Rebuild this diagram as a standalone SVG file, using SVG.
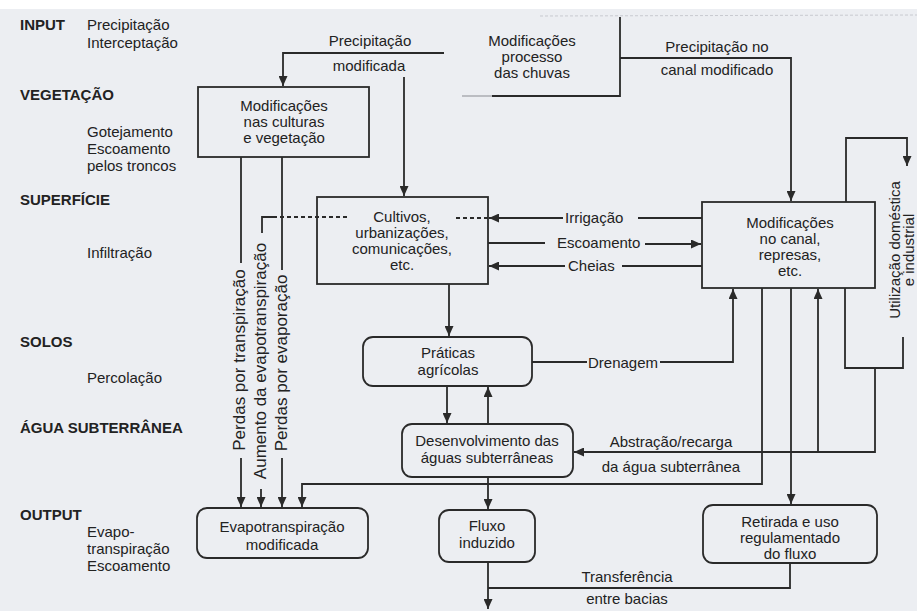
<svg xmlns="http://www.w3.org/2000/svg" width="917" height="611" viewBox="0 0 917 611">
<style>
.t{font-family:"Liberation Sans",Arial,sans-serif;font-size:15px;fill:#222222}
.b{font-weight:bold}
.c{text-anchor:middle}
.v{font-size:17px}
.box{fill:none;stroke:#2a2a2a;stroke-width:1.8}
.ln{fill:none;stroke:#2a2a2a;stroke-width:1.8}
.ar{marker-end:url(#ah)}
.da{stroke-dasharray:4 3}
</style>
<defs>
<marker id="ah" markerUnits="userSpaceOnUse" markerWidth="10" markerHeight="9" refX="10" refY="4.5" orient="auto">
<path d="M0,0 L10,4.5 L0,9 z" fill="#2a2a2a"/>
</marker>
</defs>
<rect x="0" y="0" width="917" height="611" fill="#eceef2"/>
<rect x="0" y="0" width="917" height="9" fill="#ffffff"/>
<line x1="540" y1="16" x2="917" y2="15" stroke="#c8cad0" stroke-width="1" stroke-dasharray="3 2"/>

<g id="legend">
<text class="t b" x="20" y="30">INPUT</text>
<text class="t" x="87" y="30">Precipitação</text>
<text class="t" x="87" y="48">Interceptação</text>
<text class="t b" x="20" y="100">VEGETAÇÃO</text>
<text class="t" x="87" y="137">Gotejamento</text>
<text class="t" x="87" y="154">Escoamento</text>
<text class="t" x="87" y="171">pelos troncos</text>
<text class="t b" x="20" y="205">SUPERFÍCIE</text>
<text class="t" x="87" y="258">Infiltração</text>
<text class="t b" x="20" y="347">SOLOS</text>
<text class="t" x="87" y="383">Percolação</text>
<text class="t b" x="20" y="433">ÁGUA SUBTERRÂNEA</text>
<text class="t b" x="20" y="520">OUTPUT</text>
<text class="t" x="87" y="537">Evapo-</text>
<text class="t" x="87" y="554">transpiração</text>
<text class="t" x="87" y="571">Escoamento</text>
</g>

<g id="connectors">
<path class="ln ar" d="M444,53 H283 V86"/>
<path class="ln ar" d="M404,77 V196"/>
<path class="ln ar" d="M620,58 H791 V201"/>
<path class="ln" d="M241,157 V263"/>
<path class="ln ar" d="M241,458 V507"/>
<path class="ln" d="M282,157 V270"/>
<path class="ln ar" d="M282,458 V507"/>
<path class="ln" d="M262,233 V217 H273"/>
<path class="ln da" d="M273,217 H348"/>
<path class="ln ar" d="M261,489 V507"/>
<path class="ln" d="M702,218 H638"/>
<path class="ln ar" d="M563,218 H489"/>
<path class="ln da" d="M488,218 H453"/>
<path class="ln" d="M488,243 H545"/>
<path class="ln ar" d="M645,244 H701"/>
<path class="ln" d="M702,266 H622"/>
<path class="ln ar" d="M565,266 H489"/>
<path class="ln ar" d="M449,284 V336"/>
<path class="ln" d="M532,362 H587"/>
<path class="ln ar" d="M660,362 H733 V289"/>
<path class="ln ar" d="M447,386 V423"/>
<path class="ln ar" d="M488,424 V387"/>
<path class="ln ar" d="M875,368 V452 H574"/>
<path class="ln ar" d="M818,452 V289"/>
<path class="ln ar" d="M762,288 V484 H302 V507"/>
<path class="ln ar" d="M791,288 V504"/>
<path class="ln ar" d="M488,477 V509"/>
<path class="ln ar" d="M488,562 V609"/>
<path class="ln" d="M790,563 V588 H488"/>
<path class="ln ar" d="M846,202 V138 H907 V166"/>
<path class="ln" d="M903,337 V368 H845 V288"/>
</g>

<g id="connector-labels">
<text class="t c" x="370" y="46">Precipitação</text>
<text class="t c" x="369" y="71">modificada</text>
<text class="t c" x="717" y="52">Precipitação no</text>
<text class="t c" x="717" y="75">canal modificado</text>
<text class="t" x="565" y="223">Irrigação</text>
<text class="t" x="557" y="248">Escoamento</text>
<text class="t" x="568" y="271">Cheias</text>
<text class="t" x="588" y="368">Drenagem</text>
<text class="t c" x="671" y="447">Abstração/recarga</text>
<text class="t c" x="671" y="472">da água subterrânea</text>
<text class="t c" x="627" y="582">Transferência</text>
<text class="t c" x="627" y="604">entre bacias</text>
<text class="t c v" transform="translate(245,360) rotate(-90)">Perdas por transpiração</text>
<text class="t c v" transform="translate(266,361) rotate(-90)">Aumento da evapotranspiração</text>
<text class="t c v" transform="translate(287,363) rotate(-90)">Perdas por evaporação</text>
<text class="t c" transform="translate(900,250) rotate(-90)"><tspan x="0" y="0">Utilização doméstica</tspan><tspan x="0" y="14">e industrial</tspan></text>
</g>

<g id="node-chuvas">
<path d="M620,17 V96 H492" class="ln"/>
<path d="M492,96 H462" stroke="#9a9ca2" stroke-width="1.2" fill="none"/>
<text class="t c" x="532" y="46">Modificações</text>
<text class="t c" x="532" y="62">processo</text>
<text class="t c" x="532" y="78">das chuvas</text>
</g>

<g id="node-vegetacao">
<rect class="box" x="198" y="87" width="171" height="70"/>
<text class="t c" x="284" y="111">Modificações</text>
<text class="t c" x="284" y="127">nas culturas</text>
<text class="t c" x="284" y="143">e vegetação</text>
</g>

<g id="node-cultivos">
<rect class="box" x="317" y="197" width="171" height="87"/>
<text class="t c" x="402" y="222">Cultivos,</text>
<text class="t c" x="402" y="238">urbanizações,</text>
<text class="t c" x="402" y="254">comunicações,</text>
<text class="t c" x="402" y="270">etc.</text>
</g>

<g id="node-canal">
<rect class="box" x="702" y="202" width="173" height="86"/>
<text class="t c" x="790" y="228">Modificações</text>
<text class="t c" x="790" y="244">no canal,</text>
<text class="t c" x="790" y="260">represas,</text>
<text class="t c" x="790" y="276">etc.</text>
</g>

<g id="node-praticas">
<rect class="box" x="363" y="337" width="169" height="49" rx="10"/>
<text class="t c" x="448" y="358">Práticas</text>
<text class="t c" x="448" y="375">agrícolas</text>
</g>

<g id="node-desenvolvimento">
<rect class="box" x="402" y="424" width="171" height="53" rx="10"/>
<text class="t c" x="487" y="446">Desenvolvimento das</text>
<text class="t c" x="487" y="463">águas subterrâneas</text>
</g>

<g id="node-evapo">
<rect class="box" x="197" y="508" width="171" height="50" rx="10"/>
<text class="t c" x="282" y="532">Evapotranspiração</text>
<text class="t c" x="282" y="550">modificada</text>
</g>

<g id="node-fluxo">
<rect class="box" x="439" y="510" width="96" height="52" rx="10"/>
<text class="t c" x="487" y="531">Fluxo</text>
<text class="t c" x="487" y="548">induzido</text>
</g>

<g id="node-retirada">
<rect class="box" x="703" y="505" width="174" height="58" rx="10"/>
<text class="t c" x="790" y="527">Retirada e uso</text>
<text class="t c" x="790" y="543">regulamentado</text>
<text class="t c" x="790" y="559">do fluxo</text>
</g>
</svg>
